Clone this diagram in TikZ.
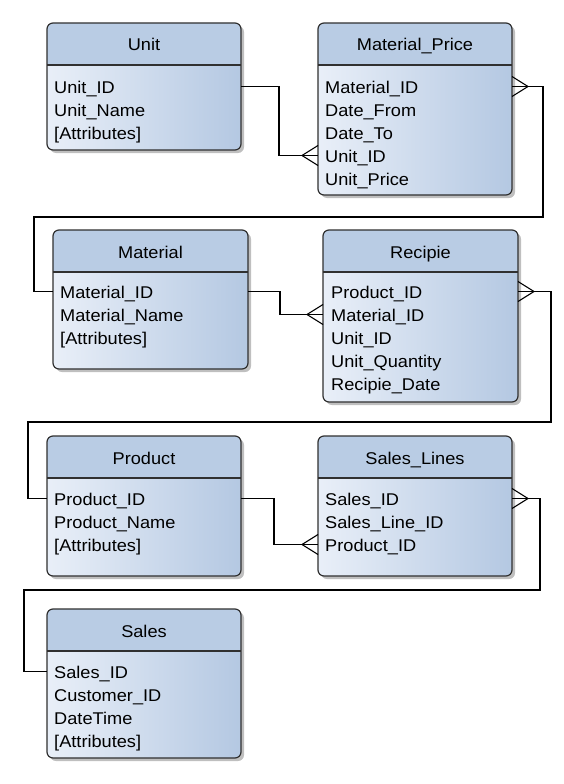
\documentclass[tikz,border=0pt]{standalone}
\usepackage{fontspec}
\setmainfont{Liberation Sans}[FakeStretch=1.07]
\usetikzlibrary{fit,shadows}
\definecolor{hdrc}{HTML}{B9CCE4}
\definecolor{bodyL}{HTML}{E9EFF8}
\definecolor{bodyR}{HTML}{B4C8E2}
\definecolor{bordc}{HTML}{303030}
\tikzset{
  entity/.style={inner sep=0pt, outer sep=0pt, rounded corners=6pt,
    left color=bodyL, right color=bodyR,
    drop shadow={shadow xshift=3pt, shadow yshift=-3pt, opacity=0.25, fill=black}},
  hdrfill/.style={fill=hdrc},
  border/.style={draw=bordc, line width=1.2pt},
  conn/.style={draw=black, line width=1.1pt},
  title/.style={anchor=base, inner sep=0pt, font=\fontsize{17}{20}\selectfont},
  attr/.style={anchor=base west, inner sep=0pt, text height=13pt, text depth=0pt, font=\fontsize{17}{20}\selectfont},
}
\newcommand\entbox[5]{%
  \node[entity, fit={(#2,#3) (#4,#5)}] (#1) {};
  \begin{scope}
    \clip[rounded corners=6pt] (#1.north west) rectangle (#1.south east);
    \fill[hdrfill] (#1.north west) rectangle ([yshift=-42pt]#1.north east);
  \end{scope}
  \draw[border] ([yshift=-42pt]#1.north west) -- ([yshift=-42pt]#1.north east);
  \draw[border, rounded corners=6pt] (#1.north west) rectangle (#1.south east);
}
\newcommand\crowL[1]{\draw[conn] ([yshift=10pt]#1) -- ([xshift=-16pt]#1) -- ([yshift=-10pt]#1);}
\newcommand\crowR[1]{\draw[conn] ([yshift=10pt]#1) -- ([xshift=16pt]#1) -- ([yshift=-10pt]#1);}
\begin{document}
\begin{tikzpicture}[x=1pt,y=-1pt]
\useasboundingbox (0,0) rectangle (563,784);

% Unit
\entbox{unit}{47}{23}{241}{150}
\node[title] (unitT) at ([yshift=-28pt]unit.north) {Unit};
\node[attr] (u1) at ([shift={(7pt,-70pt)}]unit.north west) {Unit\_ID};
\node[attr] (u2) at ([shift={(7pt,-93pt)}]unit.north west) {Unit\_Name};
\node[attr] (u3) at ([shift={(7pt,-116pt)}]unit.north west) {[Attributes]};

% Material_Price
\entbox{mp}{318}{23}{512}{195}
\node[title] (mpT) at ([yshift=-28pt]mp.north) {Material\_Price};
\node[attr] (mp1) at ([shift={(7pt,-70pt)}]mp.north west) {Material\_ID};
\node[attr] (mp2) at ([shift={(7pt,-93pt)}]mp.north west) {Date\_From};
\node[attr] (mp3) at ([shift={(7pt,-116pt)}]mp.north west) {Date\_To};
\node[attr] (mp4) at ([shift={(7pt,-139pt)}]mp.north west) {Unit\_ID};
\node[attr] (mp5) at ([shift={(7pt,-162pt)}]mp.north west) {Unit\_Price};

% Material
\entbox{mat}{53}{230}{248}{369}
\node[title] (matT) at ([yshift=-28pt]mat.north) {Material};
\node[attr] (m1) at ([shift={(7pt,-68pt)}]mat.north west) {Material\_ID};
\node[attr] (m2) at ([shift={(7pt,-91pt)}]mat.north west) {Material\_Name};
\node[attr] (m3) at ([shift={(7pt,-114pt)}]mat.north west) {[Attributes]};

% Recipie
\entbox{rec}{323}{230}{518}{402}
\node[title] (recT) at ([yshift=-28pt]rec.north) {Recipie};
\node[attr] (r1) at ([shift={(8pt,-68pt)}]rec.north west) {Product\_ID};
\node[attr] (r2) at ([shift={(8pt,-91pt)}]rec.north west) {Material\_ID};
\node[attr] (r3) at ([shift={(8pt,-114pt)}]rec.north west) {Unit\_ID};
\node[attr] (r4) at ([shift={(8pt,-137pt)}]rec.north west) {Unit\_Quantity};
\node[attr] (r5) at ([shift={(8pt,-160pt)}]rec.north west) {Recipie\_Date};

% Product
\entbox{prod}{47}{436}{241}{576}
\node[title] (prodT) at ([yshift=-28pt]prod.north) {Product};
\node[attr] (p1) at ([shift={(7pt,-69pt)}]prod.north west) {Product\_ID};
\node[attr] (p2) at ([shift={(7pt,-92pt)}]prod.north west) {Product\_Name};
\node[attr] (p3) at ([shift={(7pt,-115pt)}]prod.north west) {[Attributes]};

% Sales_Lines
\entbox{sl}{318}{436}{512}{576}
\node[title] (slT) at ([yshift=-28pt]sl.north) {Sales\_Lines};
\node[attr] (s1) at ([shift={(7pt,-69pt)}]sl.north west) {Sales\_ID};
\node[attr] (s2) at ([shift={(7pt,-92pt)}]sl.north west) {Sales\_Line\_ID};
\node[attr] (s3) at ([shift={(7pt,-115pt)}]sl.north west) {Product\_ID};

% Sales
\entbox{sales}{47}{609}{241}{758}
\node[title] (salesT) at ([yshift=-28pt]sales.north) {Sales};
\node[attr] (sa1) at ([shift={(7pt,-69pt)}]sales.north west) {Sales\_ID};
\node[attr] (sa2) at ([shift={(7pt,-92pt)}]sales.north west) {Customer\_ID};
\node[attr] (sa3) at ([shift={(7pt,-115pt)}]sales.north west) {DateTime};
\node[attr] (sa4) at ([shift={(7pt,-138pt)}]sales.north west) {[Attributes]};

% Connectors
% Unit -> Material_Price
\coordinate (e1) at (mp4.west -| mp.west);
\draw[conn] (u1.west -| unit.east) -- ++(38pt,0pt) |- (e1);
\crowL{e1}
% Material_Price -> Material
\coordinate (e2) at (mp1.west -| mp.east);
\crowR{e2}
\draw[conn] (e2) -- ++(31pt,0pt) |- ([shift={(-19pt,13pt)}]mat.north west) |- (m1.west -| mat.west);
% Material -> Recipie
\coordinate (e3) at (r2.west -| rec.west);
\draw[conn] (m1.west -| mat.east) -- ++(32pt,0pt) |- (e3);
\crowL{e3}
% Recipie -> Product
\coordinate (e4) at (r1.west -| rec.east);
\crowR{e4}
\draw[conn] (e4) -- ++(33pt,0pt) |- ([shift={(-19pt,14pt)}]prod.north west) |- (p1.west -| prod.west);
% Product -> Sales_Lines
\coordinate (e5) at (s3.west -| sl.west);
\draw[conn] (p1.west -| prod.east) -- ++(33pt,0pt) |- (e5);
\crowL{e5}
% Sales_Lines -> Sales
\coordinate (e6) at (s1.west -| sl.east);
\crowR{e6}
\draw[conn] (e6) -- ++(28pt,0pt) |- ([shift={(-23pt,19pt)}]sales.north west) |- (sa1.west -| sales.west);
\end{tikzpicture}
\end{document}
